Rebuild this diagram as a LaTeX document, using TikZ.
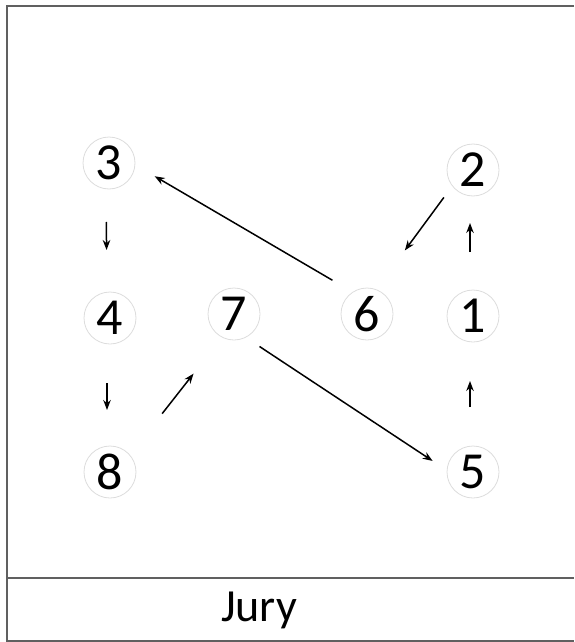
\documentclass[tikz,border=0pt]{standalone}
\usepackage{fontspec}
\setmainfont{Carlito}
\usepackage{tikz}
\usetikzlibrary{arrows.meta, positioning}
\definecolor{frame1}{RGB}{96, 96, 96}
\definecolor{ring1}{RGB}{220, 220, 220}

\begin{document}
\begin{tikzpicture}[x=1pt, y=-1pt,
    seat/.style={circle, draw=ring1, line width=0.8pt, minimum size=52pt, inner sep=0pt, font=\fontsize{52}{54}\selectfont},
    move/.style={-{Stealth[length=10pt, width=7.5pt]}, line width=1.5pt}]
  \useasboundingbox (0,0) rectangle (574,642);
  % frame and jury box (right side runs off the page)
  \draw[frame1, line width=1.6pt] (574,6) -- (7,6) -- (7,641) -- (574,641);
  \draw[frame1, line width=1.6pt] (7,578) -- (574,578);
  \node[anchor=base, font=\fontsize{46}{48}\selectfont] (jury) at (259,621) {Jury};

  % seats
  \node[seat] (s3) at (109,163) {3};
  \node[seat] (s2) at (473,170) {2};
  \node[seat] (s4) at (110,318) {4};
  \node[seat] (s7) at (234,314) {7};
  \node[seat] (s6) at (367,314) {6};
  \node[seat] (s1) at (473,316) {1};
  \node[seat] (s8) at (110,472) {8};
  \node[seat] (s5) at (473,472) {5};

  % moves
  \draw[move, shorten <=59pt, shorten >=68pt] ([xshift=-3pt]s3.center) -- ([xshift=-3pt]s4.center);
  \draw[move, shorten <=65pt, shorten >=62pt] ([xshift=-3pt]s4.center) -- ([xshift=-3pt]s8.center);
  \draw[move, shorten <=65pt, shorten >=65pt] ([xshift=-3pt]s5.center) -- ([xshift=-3pt]s1.center);
  \draw[move, shorten <=64pt, shorten >=53pt] ([xshift=-3pt]s1.center) -- ([xshift=-3pt]s2.center);
  \draw[move, shorten <=39pt, shorten >=74pt] ([xshift=-6pt, yshift=4pt]s2.center) -- ([xshift=-6pt, yshift=4pt]s6.center);
  \draw[move, shorten <=47pt, shorten >=46pt] ([xshift=6pt, yshift=10pt]s6.center) -- ([xshift=6pt, yshift=10pt]s3.center);
  \draw[move, shorten <=78pt, shorten >=72pt] ([xshift=4pt, yshift=-3pt]s8.center) -- ([xshift=4pt, yshift=-3pt]s7.center);
  \draw[move, shorten <=39pt, shorten >=40pt] ([xshift=-7pt, yshift=-11pt]s7.center) -- ([xshift=-7pt, yshift=-11pt]s5.center);
\end{tikzpicture}
\end{document}
